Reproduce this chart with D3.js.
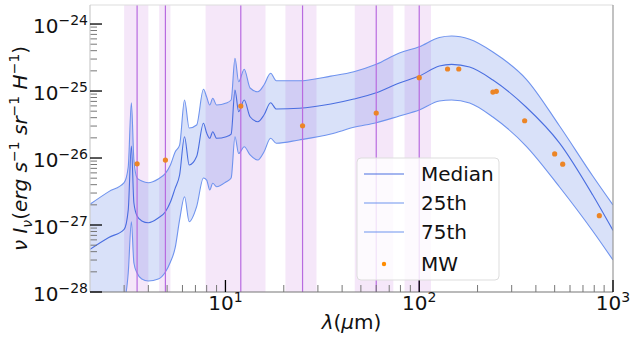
<!DOCTYPE html>
<html>
<head>
<meta charset="utf-8">
<script src="https://cdn.jsdelivr.net/npm/d3@7"></script>
<style>
    body { margin: 0; background: #ffffff; }
    svg { font-family: "DejaVu Sans", sans-serif; }
</style>
</head>
<body>
<div id="chart"></div>
<script>
// wavelength grid (micron) and the three percentile curves
const wavelength = [2, 2.5, 3, 3.15, 3.27, 3.37, 3.5, 3.7, 4, 4.5,
    4.9, 5.2, 5.5, 5.8, 6.15, 6.5, 7.1, 7.7, 8.0, 8.3,
    8.6, 9.0, 10.1, 10.7, 11.2, 11.7, 12.5, 13.4, 14.7, 15.8,
    17.1, 18.3, 24, 35, 46, 60, 79, 100, 127, 147,
    182, 240, 356, 530, 786, 1000];

const p75 = [2.04e-27, 3.15e-27, 4.28e-27, 7.34e-27, 6.69e-26, 9.33e-27, 5.03e-27, 4.54e-27, 4.28e-27, 4.86e-27,
    5.91e-27, 7.86e-27, 1.23e-26, 1.56e-26, 7.34e-26, 2.80e-26, 3.11e-26, 1.06e-25, 8.13e-26, 6.18e-26,
    7.78e-26, 6.18e-26, 6.62e-26, 7.34e-26, 3.08e-25, 1.38e-25, 2.11e-25, 1.11e-25, 9.76e-26, 1.23e-25,
    1.84e-25, 1.42e-25, 1.42e-25, 1.67e-25, 1.94e-25, 2.50e-25, 3.69e-25, 4.58e-25, 6.29e-25, 6.62e-25,
    5.91e-25, 3.82e-25, 1.51e-25, 3.00e-26, 5.39e-27, 1.99e-27];

const median = [4.34e-28, 6.51e-28, 8.63e-28, 1.67e-27, 1.51e-26, 2.13e-27, 1.36e-27, 1.15e-27, 1.08e-27, 1.27e-27,
    1.58e-27, 2.20e-27, 3.53e-27, 5.58e-27, 2.08e-26, 7.86e-27, 1.05e-26, 3.30e-26, 2.36e-26, 1.97e-26,
    2.47e-26, 1.97e-26, 2.08e-26, 2.28e-26, 1.03e-25, 4.91e-26, 7.34e-26, 4.13e-26, 3.48e-26, 4.38e-26,
    6.69e-26, 5.39e-26, 5.52e-26, 6.40e-26, 7.60e-26, 9.43e-26, 1.32e-25, 1.67e-25, 2.36e-25, 2.50e-25,
    2.28e-25, 1.46e-25, 5.77e-26, 1.67e-26, 2.80e-27, 8.28e-28];

const p25 = [3.82e-29, 5.39e-29, 7.60e-29, 1.92e-28, 1.12e-27, 2.71e-28, 1.92e-28, 1.56e-28, 1.46e-28, 1.56e-28,
    1.99e-28, 2.80e-28, 4.54e-28, 1.19e-27, 2.64e-27, 1.12e-27, 1.88e-27, 5.03e-27, 4.69e-27, 3.33e-27,
    4.19e-27, 3.73e-27, 4.43e-27, 5.03e-27, 2.08e-26, 1.17e-26, 1.47e-26, 1.11e-26, 9.33e-27, 1.23e-26,
    1.97e-26, 1.66e-26, 1.86e-26, 2.28e-26, 2.87e-26, 3.36e-26, 4.24e-26, 5.20e-26, 7.09e-26, 7.34e-26,
    6.62e-26, 4.09e-26, 1.51e-26, 3.69e-27, 8.13e-28, 3.00e-28];

// Milky Way photometry
const mwWave = [3.5, 4.9, 12, 25, 60, 100, 140, 160, 240, 250, 350, 500, 550, 850];
const mwFlux = [8.2e-27, 9.3e-27, 5.97e-26, 3.03e-26, 4.7e-26, 1.58e-25, 2.13e-25, 2.13e-25, 9.66e-26, 9.9e-26, 3.6e-26, 1.15e-26, 8.1e-27, 1.38e-27];

// filter bands: centre, lower and upper edge (micron)
const bandCenter = [3.5, 4.9, 12, 25, 60, 100];
const bandLo = [3.0, 4.55, 7.9, 20.4, 46.5, 84];
const bandHi = [4.0, 5.2, 16.1, 29.5, 73.5, 115];

const xMajor = [10, 100, 1000];
const xMajorExp = ["1", "2", "3"];
const yMajorExp = [-28, -27, -26, -25, -24];
const legendLabels = ["Median", "25th", "75th", "MW"];

const W = 632, H = 344;
const margin = { left: 90, right: 19, top: 5, bottom: 52 };

const svg = d3.select("#chart").append("svg")
    .attr("width", W)
    .attr("height", H);

const x = d3.scaleLog()
    .domain([2, 1000])
    .range([margin.left, W - margin.right]);

const y = d3.scaleLog()
    .domain([1e-28, Math.pow(10, -23.716)])
    .range([H - margin.bottom, margin.top]);

svg.append("clipPath")
    .attr("id", "plotclip")
    .append("rect")
    .attr("x", x.range()[0])
    .attr("y", y.range()[1])
    .attr("width", x.range()[1] - x.range()[0])
    .attr("height", y.range()[0] - y.range()[1]);

const plot = svg.append("g").attr("clip-path", "url(#plotclip)");

// shaded filter bands
plot.selectAll(".band")
    .data(bandCenter.map((c, i) => ({ c: c, lo: bandLo[i], hi: bandHi[i] })))
    .enter()
    .append("rect")
    .attr("class", "band")
    .attr("x", d => x(d.lo))
    .attr("width", d => x(d.hi) - x(d.lo))
    .attr("y", y.range()[1])
    .attr("height", y.range()[0] - y.range()[1])
    .attr("fill", "#ba55d3")
    .attr("fill-opacity", 0.14);

const rows = wavelength.map((w, i) => ({ w: w, lo: p25[i], med: median[i], hi: p75[i] }));

const area = d3.area()
    .x(d => x(d.w))
    .y0(d => y(d.lo))
    .y1(d => y(d.hi))
    .curve(d3.curveMonotoneX);

plot.append("path")
    .datum(rows)
    .attr("d", area)
    .attr("fill", "#4169e1")
    .attr("fill-opacity", 0.2);

const line = key => d3.line()
    .x(d => x(d.w))
    .y(d => y(d[key]))
    .curve(d3.curveMonotoneX);

plot.append("path").datum(rows).attr("d", line("lo"))
    .attr("fill", "none").attr("stroke", "#6f93ee").attr("stroke-width", 1.1);
plot.append("path").datum(rows).attr("d", line("hi"))
    .attr("fill", "none").attr("stroke", "#6f93ee").attr("stroke-width", 1.1);
plot.append("path").datum(rows).attr("d", line("med"))
    .attr("fill", "none").attr("stroke", "#4a6ee0").attr("stroke-width", 1.1);

// band centres
plot.selectAll(".band-line")
    .data(bandCenter)
    .enter()
    .append("line")
    .attr("class", "band-line")
    .attr("x1", d => x(d)).attr("x2", d => x(d))
    .attr("y1", y.range()[1]).attr("y2", y.range()[0])
    .attr("stroke", "#b86be0")
    .attr("stroke-width", 1.2);

plot.selectAll(".mw")
    .data(mwWave.map((w, i) => ({ w: w, f: mwFlux[i] })))
    .enter()
    .append("circle")
    .attr("class", "mw")
    .attr("cx", d => x(d.w))
    .attr("cy", d => y(d.f))
    .attr("r", 2.6)
    .attr("fill", "#ec8526");

// ticks
const x0 = x.range()[0], x1 = x.range()[1];
const yb = y.range()[0], yt = y.range()[1];
const axes = svg.append("g");

const xMinor = [];
[1, 10, 100].forEach(base => {
    for (let m = 2; m <= 9; m++) {
        const v = base * m;
        if (v > 2 && v < 1000) xMinor.push(v);
    }
});
const yMinor = [];
yMajorExp.forEach(e => {
    for (let m = 2; m <= 9; m++) {
        const v = m * Math.pow(10, e);
        if (v < y.domain()[1]) yMinor.push(v);
    }
});

axes.selectAll(".xminor").data(xMinor).enter().append("line")
    .attr("x1", d => x(d)).attr("x2", d => x(d))
    .attr("y1", yb).attr("y2", yb - 7)
    .attr("stroke", "#777").attr("stroke-width", 1);
axes.selectAll(".yminor").data(yMinor).enter().append("line")
    .attr("x1", x0).attr("x2", x0 + 7)
    .attr("y1", d => y(d)).attr("y2", d => y(d))
    .attr("stroke", "#777").attr("stroke-width", 1);

// frame
axes.append("line").attr("x1", x0).attr("x2", x1).attr("y1", yt).attr("y2", yt)
    .attr("stroke", "#dddddd").attr("stroke-width", 1.2);
axes.append("line").attr("x1", x1).attr("x2", x1).attr("y1", yt).attr("y2", yb)
    .attr("stroke", "#999999").attr("stroke-width", 1.2);
axes.append("line").attr("x1", x0).attr("x2", x0).attr("y1", yt).attr("y2", yb)
    .attr("stroke", "#cccccc").attr("stroke-width", 1.2);
axes.append("line").attr("x1", x0).attr("x2", x1).attr("y1", yb).attr("y2", yb)
    .attr("stroke", "#777777").attr("stroke-width", 1.2);

axes.selectAll(".xmajor").data(xMajor).enter().append("line")
    .attr("x1", d => x(d)).attr("x2", d => x(d))
    .attr("y1", yb).attr("y2", yb - 12)
    .attr("stroke", "#000").attr("stroke-width", 1.3);
axes.selectAll(".ymajor").data(yMajorExp).enter().append("line")
    .attr("x1", x0).attr("x2", x0 + 12)
    .attr("y1", d => y(Math.pow(10, d))).attr("y2", d => y(Math.pow(10, d)))
    .attr("stroke", "#000").attr("stroke-width", 1.3);

// tick labels, 10 with superscript exponent
const xLab = axes.selectAll(".xlab").data(xMajor).enter().append("text")
    .attr("x", d => x(d))
    .attr("y", yb + 18)
    .attr("text-anchor", "middle")
    .attr("font-size", 20)
    .attr("fill", "#111");
xLab.append("tspan").text("10");
xLab.append("tspan").attr("dy", -8).attr("font-size", 14).text((d, i) => xMajorExp[i]);

const yLab = axes.selectAll(".ylab").data(yMajorExp).enter().append("text")
    .attr("x", x0 - 2)
    .attr("y", d => y(Math.pow(10, d)) + 9)
    .attr("text-anchor", "end")
    .attr("font-size", 20)
    .attr("fill", "#111");
yLab.append("tspan").text("10");
yLab.append("tspan").attr("dy", -8).attr("font-size", 14).text(d => "\u2212" + Math.abs(d));

// axis titles
const xTitle = svg.append("text")
    .attr("x", (x0 + x1) / 2)
    .attr("y", 329)
    .attr("text-anchor", "middle")
    .attr("font-size", 20)
    .attr("fill", "#111");
xTitle.append("tspan").attr("font-style", "italic").text("λ");
xTitle.append("tspan").text("(");
xTitle.append("tspan").attr("font-style", "italic").text("μ");
xTitle.append("tspan").text("m)");

const yTitle = svg.append("text")
    .attr("transform", `translate(27,${(yt + yb) / 2}) rotate(-90)`)
    .attr("text-anchor", "middle")
    .attr("font-size", 20)
    .attr("font-style", "italic")
    .attr("fill", "#111");
yTitle.append("tspan").text("ν I");
yTitle.append("tspan").attr("dy", 5).attr("font-size", 14).text("ν");
yTitle.append("tspan").attr("dy", -5).attr("font-style", "normal").text("(");
yTitle.append("tspan").text("erg s");
yTitle.append("tspan").attr("dy", -8).attr("font-size", 14).attr("font-style", "normal").text("\u22121");
yTitle.append("tspan").attr("dy", 8).text(" sr");
yTitle.append("tspan").attr("dy", -8).attr("font-size", 14).attr("font-style", "normal").text("\u22121");
yTitle.append("tspan").attr("dy", 8).text(" H");
yTitle.append("tspan").attr("dy", -8).attr("font-size", 14).attr("font-style", "normal").text("\u22121");
yTitle.append("tspan").attr("dy", 8).attr("font-style", "normal").text(")");

// legend
const legend = svg.append("g").attr("transform", "translate(357,158)");
legend.append("rect")
    .attr("width", 142)
    .attr("height", 122)
    .attr("rx", 4)
    .attr("fill", "#ffffff")
    .attr("fill-opacity", 0.8)
    .attr("stroke", "#dddddd");

const legendRowY = [16, 45, 74, 106];
const legendStroke = ["#4a6ee0", "#6f93ee", "#6f93ee"];
legendLabels.forEach((lab, i) => {
    if (i < 3) {
        legend.append("line")
            .attr("x1", 7).attr("x2", 47)
            .attr("y1", legendRowY[i]).attr("y2", legendRowY[i])
            .attr("stroke", legendStroke[i]).attr("stroke-width", 1.1);
    } else {
        legend.append("circle")
            .attr("cx", 27).attr("cy", legendRowY[i])
            .attr("r", 2.2)
            .attr("fill", "#ff8c00");
    }
    legend.append("text")
        .attr("x", 64)
        .attr("y", legendRowY[i] + 7)
        .attr("font-size", 20)
        .attr("fill", "#111")
        .text(lab);
});
</script>
</body>
</html>
